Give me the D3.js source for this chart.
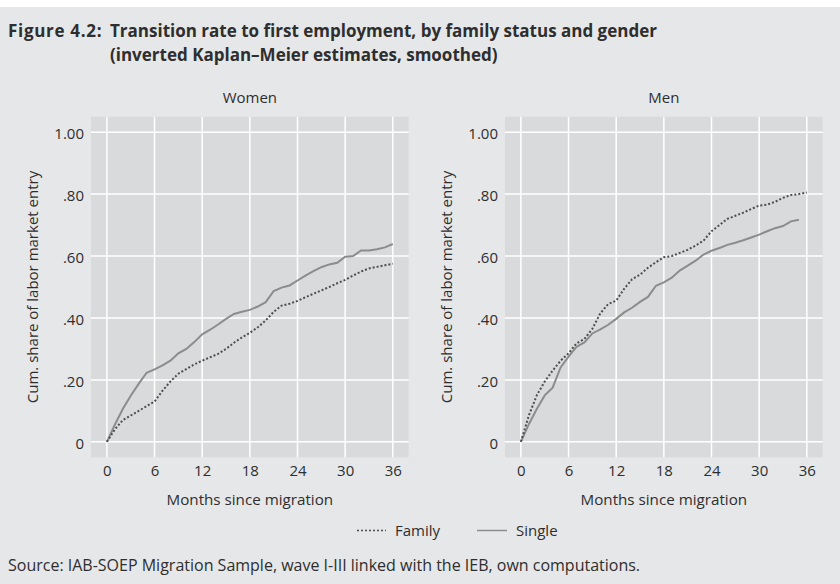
<!DOCTYPE html>
<html>
<head>
<meta charset="utf-8">
<script src="https://cdn.jsdelivr.net/npm/d3@7"></script>
<style>
  html, body { margin: 0; padding: 0; background: #ffffff; }
  svg { display: block; font-family: "Open Sans", "Noto Sans", sans-serif; }
</style>
</head>
<body>
<svg id="chart" width="840" height="584"></svg>
<script>
// ---------- data ----------
const months = d3.range(0, 37);          // 0..36
const xTicks = [0, 6, 12, 18, 24, 30, 36];
const yTicks = [0, 0.2, 0.4, 0.6, 0.8, 1.0];
const yTickLabels = ["0", ".20", ".40", ".60", ".80", "1.00"];
const panelTitles = ["Women", "Men"];
const seriesNames = ["Family", "Single"];

const womenFamily = [0, 0.04, 0.07, 0.085, 0.10, 0.115, 0.13, 0.165, 0.195, 0.22, 0.235, 0.25, 0.262,
  0.273, 0.284, 0.30, 0.32, 0.337, 0.352, 0.37, 0.392, 0.42, 0.44, 0.446, 0.455, 0.467, 0.478, 0.489,
  0.50, 0.512, 0.523, 0.537, 0.55, 0.56, 0.565, 0.57, 0.575];
const womenSingle = [0, 0.055, 0.106, 0.149, 0.187, 0.223, 0.234, 0.247, 0.262, 0.286, 0.300, 0.322,
  0.347, 0.362, 0.379, 0.397, 0.413, 0.42, 0.426, 0.437, 0.451, 0.487, 0.498, 0.505, 0.521, 0.537,
  0.551, 0.564, 0.573, 0.578, 0.598, 0.60, 0.618, 0.618, 0.622, 0.628, 0.639];
const menFamily = [0, 0.085, 0.15, 0.195, 0.23, 0.262, 0.286, 0.318, 0.332, 0.365, 0.415, 0.445, 0.456,
  0.494, 0.525, 0.54, 0.562, 0.58, 0.596, 0.60, 0.61, 0.62, 0.634, 0.65, 0.68, 0.70, 0.72, 0.73,
  0.74, 0.752, 0.763, 0.766, 0.775, 0.788, 0.797, 0.80, 0.805];
const menSingle = [0, 0.057, 0.106, 0.15, 0.175, 0.24, 0.275, 0.307, 0.321, 0.35, 0.363, 0.378, 0.397,
  0.418, 0.433, 0.452, 0.468, 0.504, 0.515, 0.53, 0.553, 0.569, 0.585, 0.605, 0.617, 0.626, 0.636,
  0.643, 0.651, 0.66, 0.669, 0.68, 0.69, 0.697, 0.712, 0.717];

const titleLine1Bold = "Figure 4.2:";
const titleLine1 = "Transition rate to first employment, by family status and gender";
const titleLine2 = "(inverted Kaplan\u2013Meier estimates, smoothed)";
const xTitle = "Months since migration";
const yTitle = "Cum. share of labor market entry";
const sourceText = "Source: IAB-SOEP Migration Sample, wave I-III linked with the IEB, own computations.";

// ---------- styles ----------
const C = {
  page: "#e6e7e8", plot: "#d9dadb", grid: "#ffffff", text: "#2e2e2e",
  single: "#8c8c8c", family: "#4d4d4d"
};

const svg = d3.select("#chart");
svg.append("rect").attr("x", 0).attr("y", 7).attr("width", 840).attr("height", 577).attr("fill", C.page);

// title
const t1 = svg.append("text").attr("x", 8).attr("y", 37).attr("fill", C.text)
  .attr("font-weight", "bold").attr("font-size", 17);
t1.append("tspan").attr("letter-spacing", 0.7).text(titleLine1Bold);
t1.append("tspan").attr("x", 110).text(titleLine1);
svg.append("text").attr("x", 110).attr("y", 61).attr("fill", C.text)
  .attr("font-weight", "bold").attr("font-size", 17).text(titleLine2);

const y = d3.scaleLinear().domain([-0.05, 1.05]).range([457.3, 116.7]);

const panels = [
  { title: panelTitles[0], x0: 91, x1: 408.7, family: womenFamily, single: womenSingle },
  { title: panelTitles[1], x0: 505, x1: 822.7, family: menFamily, single: menSingle }
];

panels.forEach(p => {
  const x = d3.scaleLinear().domain([-2, 38]).range([p.x0, p.x1]);
  const g = svg.append("g");
  g.append("rect").attr("x", p.x0).attr("y", y(1.05)).attr("width", p.x1 - p.x0)
    .attr("height", y(-0.05) - y(1.05)).attr("fill", C.plot);

  // grid
  g.selectAll("line.vg").data(xTicks).join("line")
    .attr("x1", d => x(d)).attr("x2", d => x(d)).attr("y1", y(1.05)).attr("y2", y(-0.05))
    .attr("stroke", C.grid).attr("stroke-width", 1.5);
  g.selectAll("line.hg").data(yTicks).join("line")
    .attr("x1", p.x0).attr("x2", p.x1).attr("y1", d => y(d)).attr("y2", d => y(d))
    .attr("stroke", C.grid).attr("stroke-width", 1.5);

  // axes labels via d3 axes (no domain/ticks lines)
  const ax = g.append("g").attr("transform", `translate(0,${y(-0.05)})`)
    .call(d3.axisBottom(x).tickValues(xTicks).tickSize(0).tickPadding(8));
  const ay = g.append("g").attr("transform", `translate(${p.x0},0)`)
    .call(d3.axisLeft(y).tickValues(yTicks).tickFormat((d, i) => yTickLabels[i]).tickSize(0).tickPadding(7));
  [ax, ay].forEach(a => {
    a.select(".domain").remove();
    a.selectAll("text").attr("fill", C.text).attr("font-size", 15)
      .attr("font-family", "'Open Sans', 'Noto Sans', sans-serif");
  });
  ay.selectAll("text").attr("dy", "0.45em");

  // panel title
  g.append("text").attr("x", (p.x0 + p.x1) / 2).attr("y", 103).attr("text-anchor", "middle")
    .attr("fill", C.text).attr("font-size", 15).text(p.title);
  // axis titles
  g.append("text").attr("x", (p.x0 + p.x1) / 2).attr("y", 505).attr("text-anchor", "middle")
    .attr("fill", C.text).attr("font-size", 15.2).text(xTitle);
  g.append("text").attr("transform", `translate(${p.x0 - 53},${(y(1.05) + y(-0.05)) / 2}) rotate(-90)`)
    .attr("text-anchor", "middle").attr("fill", C.text).attr("font-size", 15).text(yTitle);

  const line = d3.line().x((d, i) => x(months[i])).y(d => y(d));
  g.append("path").datum(p.single).attr("d", line).attr("fill", "none")
    .attr("stroke", C.single).attr("stroke-width", 2);
  g.append("path").datum(p.family).attr("d", line).attr("fill", "none")
    .attr("stroke", C.family).attr("stroke-width", 2).attr("stroke-dasharray", "2,2");
});

// legend
const lg = svg.append("g");
lg.append("line").attr("x1", 357).attr("x2", 386).attr("y1", 530.5).attr("y2", 530.5)
  .attr("stroke", C.family).attr("stroke-width", 1.5).attr("stroke-dasharray", "2,2");
lg.append("text").attr("x", 395).attr("y", 536).attr("fill", C.text).attr("font-size", 15).text(seriesNames[0]);
lg.append("line").attr("x1", 477).attr("x2", 507).attr("y1", 530.5).attr("y2", 530.5)
  .attr("stroke", C.single).attr("stroke-width", 1.5);
lg.append("text").attr("x", 516).attr("y", 536).attr("fill", C.text).attr("font-size", 15).text(seriesNames[1]);

// source
svg.append("text").attr("x", 8).attr("y", 571).attr("fill", C.text).attr("font-size", 16).text(sourceText);
</script>
</body>
</html>
